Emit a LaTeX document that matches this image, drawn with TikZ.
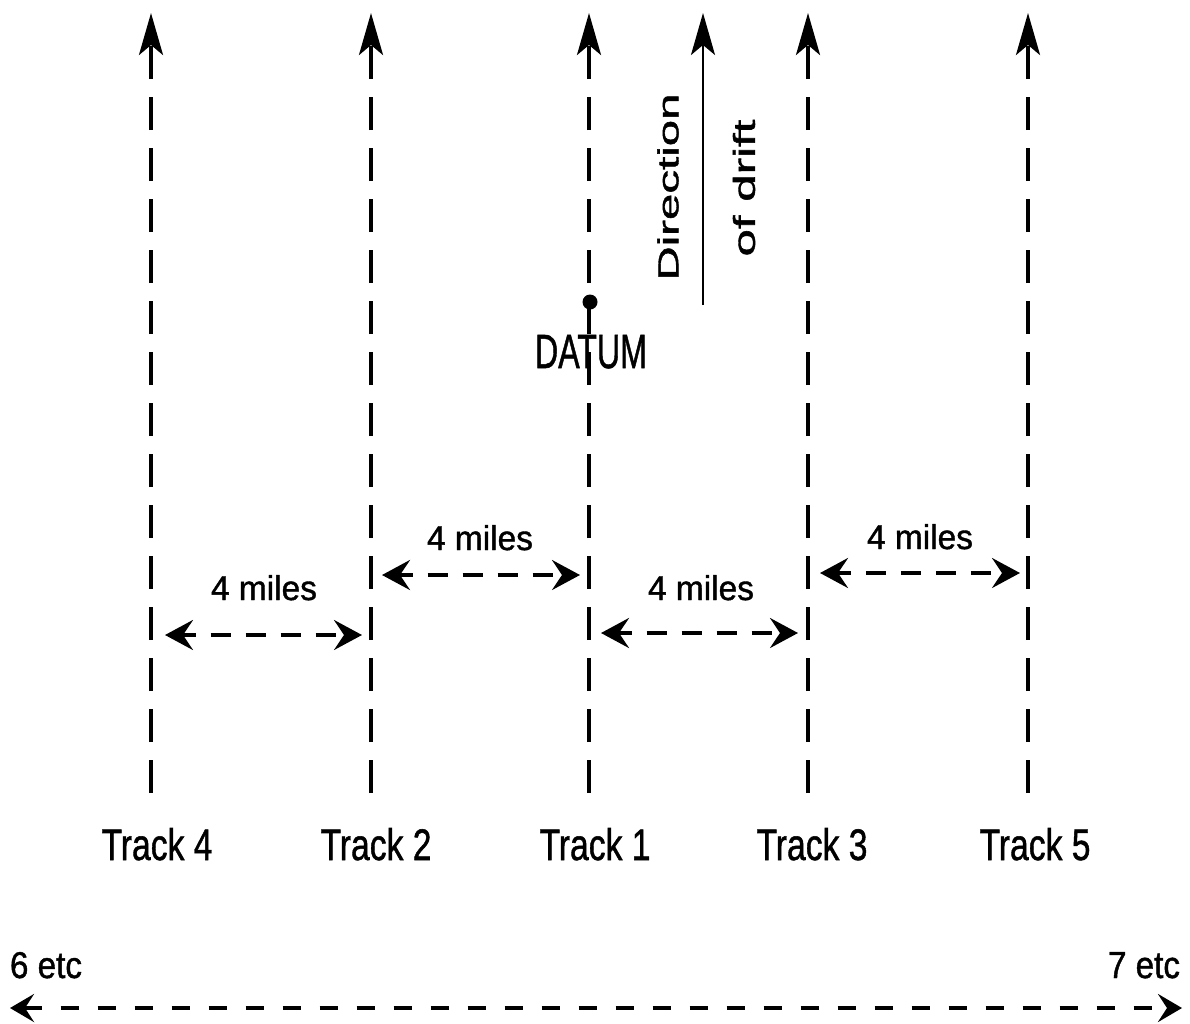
\documentclass[tikz,border=0pt]{standalone}
\usepackage{fontspec}
\setmainfont[FakeBold=1.2]{Liberation Sans}
\usepackage{graphicx}
\usetikzlibrary{arrows.meta}
% text squeezed to a given width and height (pt)
\newcommand{\fitbox}[3]{\resizebox{#1pt}{#2pt}{#3}}
\begin{document}
\begin{tikzpicture}[x=1pt,y=-1pt,
  every node/.style={inner sep=0pt, outer sep=0pt},
  uptip/.tip={Stealth[length=42pt,width=24pt,inset=10pt]},
  sidetip/.tip={Stealth[length=28pt,width=30pt,inset=10pt]},
  endtip/.tip={Stealth[length=24pt,width=28pt,inset=9pt]},
  trackline/.style={line width=3.4pt, dash pattern=on 33pt off 18pt, -uptip},
  spacing/.style={line width=3.6pt, dash pattern=on 20pt off 15pt, dash phase=6pt, sidetip-sidetip},
  sweep/.style={line width=4pt, dash pattern=on 18pt off 19pt, endtip-endtip},
]
\useasboundingbox (0,0) rectangle (1190,1023);

% track lines (bottom end and arrow tip)
\foreach \n/\x in {4/151, 2/371, 1/589, 3/808, 5/1028} {
  \coordinate (b\n) at (\x,793);
  \coordinate (t\n) at (\x,13);
}
\foreach \n in {4,2,1,3,5} \draw[trackline] (b\n) -- (t\n);

% track labels
\node[anchor=base] (l4) at (157,860) {\fitbox{111}{32}{Track 4}};
\node[anchor=base] (l2) at (376,860) {\fitbox{111}{32}{Track 2}};
\node[anchor=base] (l1) at (595,860) {\fitbox{111}{32}{Track 1}};
\node[anchor=base] (l3) at (812,860) {\fitbox{111}{32}{Track 3}};
\node[anchor=base] (l5) at (1035,860) {\fitbox{111}{32}{Track 5}};

% datum
\node[circle, fill=black, minimum size=15pt] (datum) at (590,302) {};
\node[anchor=base] (datumlbl) at (591,368) {\fitbox{112}{33}{DATUM}};

% direction of drift
\coordinate (d0) at (703,305);
\coordinate (d1) at (703,13);
\draw[line width=2.4pt, -uptip] (d0) -- (d1);
\node[rotate=90] (dirlbl) at (668,187) {\fitbox{187}{21}{Direction}};
\node[rotate=90] (driftlbl) at (744,188) {\fitbox{137}{22}{of drift}};

% spacing between tracks
\coordinate (s42a) at (165,635);  \coordinate (s42b) at (362,635);
\coordinate (s21a) at (382,575);  \coordinate (s21b) at (580,575);
\coordinate (s13a) at (601,633);  \coordinate (s13b) at (798,633);
\coordinate (s35a) at (820,573);  \coordinate (s35b) at (1020,573);
\draw[spacing] (s42a) -- (s42b);
\draw[spacing] (s21a) -- (s21b);
\draw[spacing] (s13a) -- (s13b);
\draw[spacing] (s35a) -- (s35b);
\node[anchor=base] (m42) at (264,600) {\fitbox{106}{25}{4 miles}};
\node[anchor=base] (m21) at (480,550) {\fitbox{106}{25}{4 miles}};
\node[anchor=base] (m13) at (701,600) {\fitbox{106}{25}{4 miles}};
\node[anchor=base] (m35) at (920,549) {\fitbox{106}{25}{4 miles}};

% further tracks either side
\coordinate (fl) at (10,1008);
\coordinate (fr) at (1182,1008);
\draw[sweep] (fl) -- (fr);
\node[anchor=base west] (six) at (10,978) {\fitbox{72}{26}{6 etc}};
\node[anchor=base east] (seven) at (1180,978) {\fitbox{72}{26}{7 etc}};
\end{tikzpicture}
\end{document}
